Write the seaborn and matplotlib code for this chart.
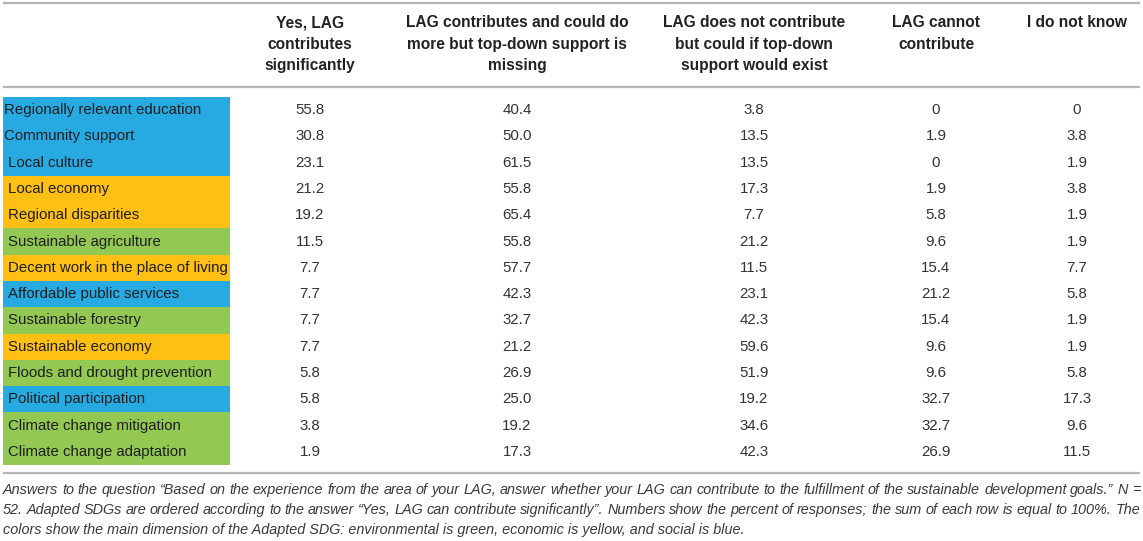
import numpy as np
import pandas as pd
import matplotlib
matplotlib.use("Agg")
import matplotlib.pyplot as plt
import seaborn as sns

# Table data
sdg_names = ["Regionally relevant education", "Community support", "Local culture",
             "Local economy", "Regional disparities", "Sustainable agriculture",
             "Decent work in the place of living", "Affordable public services",
             "Sustainable forestry", "Sustainable economy", "Floods and drought prevention",
             "Political participation", "Climate change mitigation", "Climate change adaptation"]
dimension = ["social", "social", "social", "economic", "economic", "environmental",
             "economic", "social", "environmental", "economic", "environmental",
             "social", "environmental", "environmental"]
yes_significant = [55.8, 30.8, 23.1, 21.2, 19.2, 11.5, 7.7, 7.7, 7.7, 7.7, 5.8, 5.8, 3.8, 1.9]
could_do_more = [40.4, 50.0, 61.5, 55.8, 65.4, 55.8, 57.7, 42.3, 32.7, 21.2, 26.9, 25.0, 19.2, 17.3]
could_if_support = [3.8, 13.5, 13.5, 17.3, 7.7, 21.2, 11.5, 23.1, 42.3, 59.6, 51.9, 19.2, 34.6, 42.3]
cannot = [0, 1.9, 0, 1.9, 5.8, 9.6, 15.4, 21.2, 15.4, 9.6, 9.6, 32.7, 32.7, 26.9]
do_not_know = [0, 3.8, 1.9, 3.8, 1.9, 1.9, 7.7, 5.8, 1.9, 1.9, 5.8, 17.3, 9.6, 11.5]

headers = ["Yes, LAG\ncontributes\nsignificantly",
           "LAG contributes and could do\nmore but top-down support is\nmissing",
           "LAG does not contribute\nbut could if top-down\nsupport would exist",
           "LAG cannot\ncontribute",
           "I do not know"]

caption = ["Answers to the question \u201cBased on the experience from the area of your LAG, answer whether your LAG can contribute to the fulfillment of the sustainable development goals.\u201d N =",
           "52. Adapted SDGs are ordered according to the answer \u201cYes, LAG can contribute significantly\u201d. Numbers show the percent of responses; the sum of each row is equal to 100%. The",
           "colors show the main dimension of the Adapted SDG: environmental is green, economic is yellow, and social is blue."]

df = pd.DataFrame({"sdg": sdg_names, "dim": dimension,
                   "c1": yes_significant, "c2": could_do_more, "c3": could_if_support,
                   "c4": cannot, "c5": do_not_know})
value_cols = ["c1", "c2", "c3", "c4", "c5"]

palette = {"social": "#27aae1", "economic": "#ffc013", "environmental": "#93c852"}

# layout (pixels)
W, H = 1143, 541
col_x = [310, 517, 754, 936, 1077]
label_x = [4, 4, 8, 8, 8, 8, 8, 8, 8, 8, 8, 8, 8, 8]
cell_left, cell_right = 3, 230
body_top, body_bottom = 97, 465

sns.set_theme(style="white")
plt.rcParams["font.family"] = ["Liberation Sans", "DejaVu Sans"]

fig = plt.figure(figsize=(W / 100, H / 100), dpi=100)

# body: coloured label cells drawn by seaborn, one row per SDG
ax = fig.add_axes([0, (H - body_bottom) / H, 1, (body_bottom - body_top) / H])
df["cell"] = cell_right - cell_left
sns.barplot(data=df, x="cell", y="sdg", hue="dim", palette=palette, orient="h",
            width=1.0, dodge=False, saturation=1, legend=False, linewidth=0, ax=ax)
ax.set_xlim(-cell_left, W - cell_left)
ax.set_ylim(len(df) - 0.5, -0.5)
ax.axis("off")

for i, row in df.iterrows():
    ax.text(label_x[i] - cell_left, i, row["sdg"], ha="left", va="center",
            fontsize=10.8, color="#1e1e1e")
    for j, c in enumerate(value_cols):
        v = row[c]
        txt = "0" if v == 0 else f"{v:.1f}"
        ax.text(col_x[j] - cell_left, i, txt, ha="center", va="center",
                fontsize=10.8, color="#333333")

# overlay in pixel units for header, rules and caption
ov = fig.add_axes([0, 0, 1, 1], facecolor="none")
ov.set_xlim(0, W)
ov.set_ylim(H, 0)
ov.axis("off")

ov.hlines([3, 87, 473], 3, W - 3, color="#b5b5b5", linewidth=1.6)

for j, h in enumerate(headers):
    ov.text(col_x[j], 15, h, ha="center", va="top", fontsize=11.2,
            fontweight="bold", color="#222222", linespacing=1.55)

# caption, justified like the journal layout (last line left aligned)
renderer = fig.canvas.get_renderer()
left, right = 3, W - 3
cap_size = 10.4
for k, line in enumerate(caption):
    y = 490 + 20 * k
    if k == len(caption) - 1:
        ov.text(left, y, line, ha="left", va="center", fontsize=cap_size,
                style="italic", color="#3a3a3a")
        continue
    words = line.split(" ")
    objs = [ov.text(0, y, w_, ha="left", va="center", fontsize=cap_size,
                    style="italic", color="#3a3a3a") for w_ in words]
    widths = [o.get_window_extent(renderer).width for o in objs]
    gap = (right - left - sum(widths)) / (len(words) - 1)
    x = left
    for o, wd in zip(objs, widths):
        o.set_x(x)
        x += wd + gap

fig.savefig("out.png", dpi=100)
